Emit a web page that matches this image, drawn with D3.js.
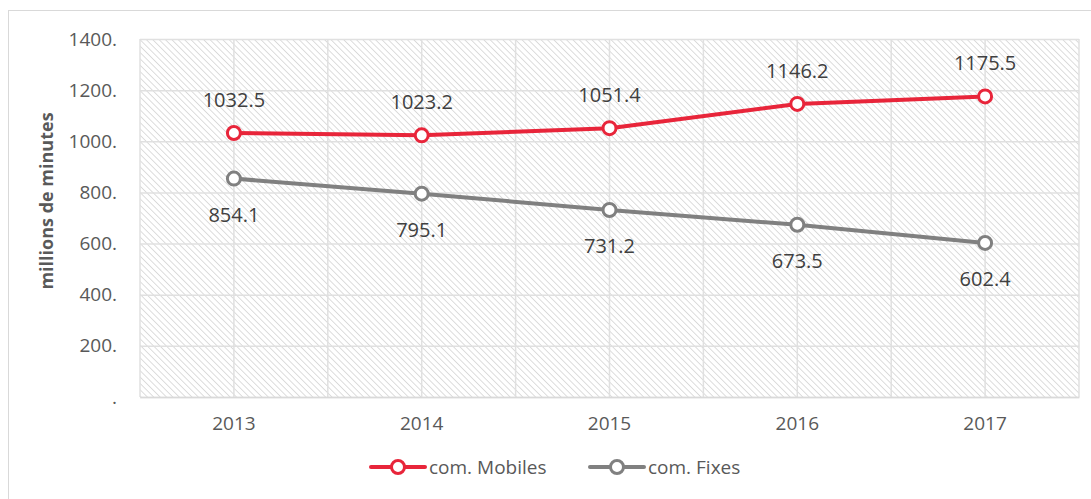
<!DOCTYPE html>
<html>
<head>
  <script src="https://cdn.jsdelivr.net/npm/d3@7/dist/d3.min.js"></script>
  <style>
    body { margin: 0; background: #fff; }
    text { font-family: "Open Sans", "Liberation Sans", sans-serif; }
  </style>
</head>
<body>
  <svg width="1091" height="499" id="chart"></svg>
  <script>
    const years = ['2013', '2014', '2015', '2016', '2017'];
    const mobiles = [1032.5, 1023.2, 1051.4, 1146.2, 1175.5];
    const fixes = [854.1, 795.1, 731.2, 673.5, 602.4];
    const yTicks = [0, 200, 400, 600, 800, 1000, 1200, 1400];
    const seriesNames = ['com. Mobiles', 'com. Fixes'];

    const svg = d3.select('#chart');
    const margin = { top: 39, right: 12, bottom: 102, left: 140 };
    const width = 1091, height = 499;
    const innerWidth = width - margin.left - margin.right;
    const innerHeight = height - margin.top - margin.bottom;
    const red = '#e8253a', grey = '#808080', textCol = '#595959';

    // outer chart border
    svg.append('rect').attr('x', 8.5).attr('y', 10.5).attr('width', 1100).attr('height', 500)
      .attr('fill', '#fff').attr('stroke', '#d9d9d9');

    // hatch pattern for the plot area
    const defs = svg.append('defs');
    const pat = defs.append('pattern').attr('id', 'hatch')
      .attr('patternUnits', 'userSpaceOnUse').attr('width', 4.5).attr('height', 4.5)
      .attr('patternTransform', 'rotate(45)');
    pat.append('rect').attr('width', 4.5).attr('height', 4.5).attr('fill', '#fff');
    pat.append('line').attr('x1', 0).attr('y1', 0).attr('x2', 4.5).attr('y2', 0)
      .attr('stroke', '#d9d9d9').attr('stroke-width', 1.8);

    const g = svg.append('g').attr('transform', `translate(${margin.left}, ${margin.top})`);

    g.append('rect').attr('width', innerWidth).attr('height', innerHeight)
      .attr('fill', 'url(#hatch)');

    const xScale = d3.scaleBand().domain(years).range([0, innerWidth]);
    const yScale = d3.scaleLinear().domain([0, 1400]).range([innerHeight, 0]);
    const xc = d => xScale(d) + xScale.bandwidth() / 2;

    // horizontal gridlines
    const yAxis = d3.axisLeft(yScale).tickValues(yTicks).tickSize(-innerWidth).tickPadding(23)
      .tickFormat(d => d === 0 ? '.' : d + '.');
    const yg = g.append('g').call(yAxis);
    yg.select('.domain').remove();
    yg.selectAll('.tick line').attr('stroke', '#e0e0e0').attr('stroke-width', 1.5);
    yg.selectAll('.tick text').attr('fill', textCol).attr('font-size', '19px');

    // vertical gridlines at category centres and boundaries
    const vlines = [];
    years.forEach(y => { vlines.push(xScale(y)); vlines.push(xc(y)); });
    vlines.push(innerWidth);
    g.selectAll('.vgrid').data(vlines).join('line').attr('class', 'vgrid')
      .attr('x1', d => d).attr('x2', d => d).attr('y1', 0).attr('y2', innerHeight)
      .attr('stroke', '#e0e0e0').attr('stroke-width', 1.5);

    const xAxis = d3.axisBottom(xScale).tickSize(0).tickPadding(20);
    const xg = g.append('g').attr('transform', `translate(0, ${innerHeight})`).call(xAxis);
    xg.select('.domain').attr('stroke', '#d9d9d9').attr('stroke-width', 1.5);
    xg.selectAll('.tick text').attr('fill', textCol).attr('font-size', '19px');

    // y axis title
    svg.append('text').attr('transform', `translate(53, 201) rotate(-90)`)
      .attr('text-anchor', 'middle').attr('fill', textCol).attr('font-size', '18px')
      .attr('font-weight', 'bold').text('millions de minutes');

    const line = d3.line().x((d, i) => xc(years[i])).y(d => yScale(d));
    const series = [
      { name: seriesNames[0], values: mobiles, color: red, dy: -26 },
      { name: seriesNames[1], values: fixes, color: grey, dy: 43 }
    ];
    series.forEach(s => {
      g.append('path').datum(s.values).attr('d', line).attr('fill', 'none')
        .attr('stroke', s.color).attr('stroke-width', 4).attr('stroke-linejoin', 'round');
      g.selectAll(null).data(s.values).join('circle')
        .attr('cx', (d, i) => xc(years[i])).attr('cy', d => yScale(d)).attr('r', 6.5)
        .attr('fill', '#fff').attr('stroke', s.color).attr('stroke-width', 3);
      g.selectAll(null).data(s.values).join('text')
        .attr('x', (d, i) => xc(years[i])).attr('y', d => yScale(d) + s.dy)
        .attr('text-anchor', 'middle').attr('fill', '#404040').attr('font-size', '20px')
        .text(d => d.toFixed(1));
    });

    // legend
    const lg = svg.append('g').attr('transform', 'translate(371, 467)');
    const legendX = [0, 219];
    series.forEach((s, i) => {
      const e = lg.append('g').attr('transform', `translate(${legendX[i]}, 0)`);
      e.append('line').attr('x1', 0).attr('x2', 54).attr('stroke', s.color).attr('stroke-width', 4)
        .attr('stroke-linecap', 'round');
      e.append('circle').attr('cx', 27).attr('r', 6.5).attr('fill', '#fff')
        .attr('stroke', s.color).attr('stroke-width', 3);
      e.append('text').attr('x', 58).attr('y', 7).attr('fill', textCol).attr('font-size', '19px')
        .text(s.name);
    });
  </script>
</body>
</html>
